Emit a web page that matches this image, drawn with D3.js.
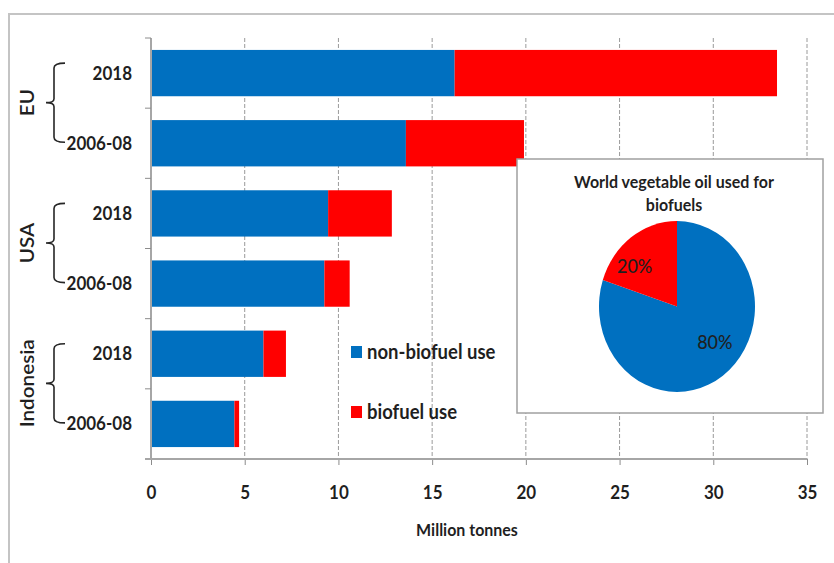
<!DOCTYPE html>
<html>
<head>
<meta charset="utf-8">
<script src="https://cdn.jsdelivr.net/npm/d3@7"></script>
<style>
  html, body { margin: 0; padding: 0; background: #fff; }
  svg { display: block; }
  text { font-family: Lato, "Open Sans", "DejaVu Sans", sans-serif; fill: #1f1f1f; }
</style>
</head>
<body>
<svg id="chart" width="834" height="563"></svg>
<script>
// Vegetable oil use by region and period (million tonnes)
const rowGroups   = ["EU", "EU", "USA", "USA", "Indonesia", "Indonesia"];
const rowPeriods  = ["2018", "2006-08", "2018", "2006-08", "2018", "2006-08"];
const nonBiofuel  = [16.2, 13.6, 9.45, 9.25, 6.0, 4.45];
const biofuel     = [17.2, 6.3, 3.4, 1.35, 1.2, 0.25];
const seriesNames = ["non-biofuel use", "biofuel use"];
const seriesColors = ["#0070C0", "#FF0000"];
const xTicks = [0, 5, 10, 15, 20, 25, 30, 35];
const xTitle = "Million tonnes";

// World vegetable oil used for biofuels (inset pie)
const pieTitle = ["World vegetable oil used for", "biofuels"];
const pieShares = [80, 20];

const svg = d3.select("#chart");
const stretch = 1.09;   // text is drawn slightly tall
const tallText = (sel, x, y) => sel.attr("transform", `translate(${x},${y}) scale(1,${stretch})`);

// outer frame (top and left edges)
svg.append("path")
  .attr("d", "M9,563 L9,14 L834,14")
  .attr("fill", "none").attr("stroke", "#c4c4c4").attr("stroke-width", 2);

const plot = { left: 151, right: 807, top: 38, bottom: 459 };

const x = d3.scaleLinear().domain([0, 35]).range([plot.left, plot.right]);
const rows = d3.range(rowPeriods.length);
const y = d3.scaleBand().domain(rows).range([plot.top, plot.bottom])
  .paddingInner(0.34).paddingOuter(0.17);
const step = y.step();

// dashed vertical gridlines
svg.append("g").selectAll("line").data(xTicks.filter(d => d > 0)).join("line")
  .attr("x1", d => x(d)).attr("x2", d => x(d))
  .attr("y1", plot.top).attr("y2", plot.bottom)
  .attr("stroke", "#9a9a9a").attr("stroke-width", 1).attr("stroke-dasharray", "4,2");

// stacked bars
const table = rows.map(i => ({ row: i, nb: nonBiofuel[i], bf: biofuel[i] }));
const stack = d3.stack().keys(["nb", "bf"])(table);
svg.append("g").selectAll("g").data(stack).join("g")
  .attr("fill", (d, i) => seriesColors[i])
  .selectAll("rect").data(d => d).join("rect")
  .attr("x", d => x(d[0]))
  .attr("width", d => x(d[1]) - x(d[0]))
  .attr("y", d => y(d.data.row))
  .attr("height", y.bandwidth());

// x axis
const xAxis = svg.append("g").attr("transform", `translate(0,${plot.bottom})`)
  .call(d3.axisBottom(x).tickValues(xTicks).tickSize(6).tickSizeOuter(0).tickPadding(22));
xAxis.select(".domain").remove();
xAxis.append("line").attr("x1", plot.left - 6).attr("x2", plot.right)
  .attr("stroke", "#a6a6a6").attr("stroke-width", 2);
xAxis.selectAll(".tick line").attr("stroke", "#8c8c8c");
xAxis.selectAll(".tick text").remove();
xAxis.selectAll(".tick").append("text")
  .attr("text-anchor", "middle").attr("dy", "0.35em")
  .attr("font-size", 17).attr("font-weight", 700).attr("fill", "#1f1f1f")
  .text(d => d)
  .each(function () { tallText(d3.select(this), 0, 34); });

tallText(svg.append("text").attr("text-anchor", "middle").attr("dy", "0.35em")
  .attr("font-size", 16).attr("font-weight", 700).text(xTitle), 467, 530);

// y axis line with ticks at band boundaries
svg.append("line").attr("x1", plot.left).attr("x2", plot.left)
  .attr("y1", plot.top).attr("y2", plot.bottom)
  .attr("stroke", "#a6a6a6").attr("stroke-width", 2);
svg.append("g").selectAll("line").data(d3.range(rows.length)).join("line")
  .attr("x1", plot.left - 6).attr("x2", plot.left)
  .attr("y1", i => plot.top + i * step).attr("y2", i => plot.top + i * step)
  .attr("stroke", "#8c8c8c");

// period labels
svg.append("g").selectAll("text").data(rows).join("text")
  .attr("text-anchor", "end").attr("dy", "0.35em")
  .attr("font-size", 17).attr("font-weight", 700)
  .text(i => rowPeriods[i])
  .each(function (i) { tallText(d3.select(this), 132, y(i) + y.bandwidth() / 2); });

// group braces and labels
const groups = Array.from(new Set(rowGroups));
groups.forEach(g => {
  const idx = rows.filter(i => rowGroups[i] === g);
  const top = y(idx[0]) + y.bandwidth() / 2 - 10;
  const bot = y(idx[idx.length - 1]) + y.bandwidth() / 2 - 1;
  const mid = (top + bot) / 2;
  const bx = 54;
  svg.append("path")
    .attr("d", `M${bx + 11},${top} Q${bx},${top} ${bx},${top + 5} L${bx},${mid - 4} Q${bx},${mid} ${bx - 8},${mid}` +
               ` Q${bx},${mid} ${bx},${mid + 4} L${bx},${bot - 5} Q${bx},${bot} ${bx + 11},${bot}`)
    .attr("fill", "none").attr("stroke", "#262626").attr("stroke-width", 1.6);
  svg.append("text").attr("text-anchor", "middle").attr("dy", "0.35em")
    .attr("font-size", 19).attr("font-weight", 600)
    .attr("transform", `translate(27,${mid}) scale(1,${stretch}) rotate(-90)`)
    .text(g);
});

// legend
const legend = svg.append("g").selectAll("g").data(seriesNames).join("g")
  .attr("transform", (d, i) => `translate(351,${352 + i * 60})`);
legend.append("rect").attr("x", 0).attr("y", -6).attr("width", 11).attr("height", 12)
  .attr("fill", (d, i) => seriesColors[i]);
legend.append("text").attr("dy", "0.35em").attr("font-size", 18.5).attr("font-weight", 700)
  .text(d => d)
  .each(function () { tallText(d3.select(this), 16, 0); });

// inset pie panel
const box = { x: 517, y: 159, w: 306, h: 254 };
svg.append("rect").attr("x", box.x).attr("y", box.y).attr("width", box.w).attr("height", box.h)
  .attr("fill", "#fff").attr("stroke", "#a0a0a0").attr("stroke-width", 1.5);
pieTitle.forEach((t, i) => {
  tallText(svg.append("text").attr("text-anchor", "middle").attr("dy", "0.35em")
    .attr("font-size", 16).attr("font-weight", 700).text(t), 674, 182 + i * 23);
});

const r = 78;
const pieG = svg.append("g").attr("transform", `translate(677,306.5) scale(1,1.096)`);
const arcs = d3.pie().sort(null).value(d => d)(pieShares);
pieG.selectAll("path").data(arcs).join("path")
  .attr("d", d3.arc().innerRadius(0).outerRadius(r))
  .attr("fill", (d, i) => seriesColors[i]);

// percentage labels, placed a little ahead of each slice's middle
pieG.selectAll("text").data(arcs).join("text")
  .attr("text-anchor", "middle").attr("dy", "0.35em")
  .attr("font-size", 18).attr("font-weight", 500).attr("fill", "#111")
  .attr("transform", d => {
    const a = (d.startAngle + d.endAngle) / 2 - 0.23;
    const rr = d.data >= 50 ? 50 : 56;
    return `translate(${rr * Math.sin(a)},${-rr * Math.cos(a)})`;
  })
  .text(d => d.data + "%");
</script>
</body>
</html>
